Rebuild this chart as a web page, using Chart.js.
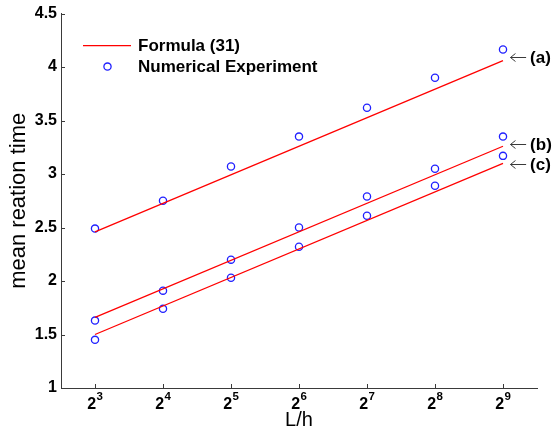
<!DOCTYPE html>
<html>
<head>
<meta charset="utf-8">
<script src="https://cdn.jsdelivr.net/npm/chart.js@4.4.1/dist/chart.umd.min.js"></script>
<style>
    html, body { margin: 0; padding: 0; background: #fff; }
    #wrap { width: 554px; height: 433px; position: relative; }
</style>
</head>
<body>
<div id="wrap"><canvas id="myChart"></canvas></div>
<script>
    // x values are powers of two, stored as exponents (L/h = 2^k)
    const exponents = [3, 4, 5, 6, 7, 8, 9];
    const yTicks = [1, 1.5, 2, 2.5, 3, 3.5, 4, 4.5];

    // numerical experiment (circles)
    const expA = [2.49, 2.75, 3.07, 3.35, 3.62, 3.90, 4.165];
    const expB = [1.63, 1.91, 2.20, 2.50, 2.79, 3.05, 3.35];
    const expC = [1.45, 1.74, 2.03, 2.32, 2.61, 2.89, 3.17];

    // formula (31) lines, end points
    const formulaX = [3, 9];
    const formulaA = [2.46, 4.06];
    const formulaB = [1.66, 3.26];
    const formulaC = [1.50, 3.10];

    // curve labels at the right
    const curveNames = ["(a)", "(b)", "(c)"];
    const curveLabelY = [4.09, 3.28, 3.09];
    const legendLabels = ["Formula (31)", "Numerical Experiment"];

    const FONT = "'Liberation Sans', Arial, Helvetica, sans-serif";
    const RED = "#ff0000";
    const BLUE = "#2020ff";
    const AXIS = "#3a3a3a";

    function toPoints(xs, ys) {
        return xs.map(function (x, i) { return {x: x, y: ys[i]}; });
    }

    function lineSet(ys) {
        return {
            data: toPoints(formulaX, ys),
            showLine: true,
            borderColor: RED,
            borderWidth: 1.3,
            pointRadius: 0,
            fill: false,
        };
    }

    function dotSet(ys) {
        return {
            data: toPoints(exponents, ys),
            showLine: false,
            borderColor: BLUE,
            backgroundColor: "rgba(0,0,0,0)",
            borderWidth: 1.3,
            pointRadius: 3.6,
            pointStyle: "circle",
        };
    }

    // inward ticks, x tick labels 2^k, legend and curve labels
    const decorPlugin = {
        id: "decor",
        afterDraw: function (chart) {
            const ctx = chart.ctx;
            const area = chart.chartArea;
            const xs = chart.scales.x;
            const ys = chart.scales.y;
            ctx.save();

            // tick marks pointing into the plot
            ctx.strokeStyle = AXIS;
            ctx.lineWidth = 1;
            ctx.beginPath();
            exponents.forEach(function (k) {
                const px = Math.round(xs.getPixelForValue(k)) + 0.5;
                ctx.moveTo(px, area.bottom);
                ctx.lineTo(px, area.bottom - 4);
            });
            yTicks.forEach(function (v) {
                const py = Math.round(ys.getPixelForValue(v)) + 0.5;
                ctx.moveTo(area.left, py);
                ctx.lineTo(area.left + 4, py);
            });
            ctx.stroke();

            // x tick labels: 2 with exponent
            ctx.fillStyle = "#000";
            ctx.textBaseline = "alphabetic";
            ctx.textAlign = "left";
            exponents.forEach(function (k) {
                const px = xs.getPixelForValue(k);
                ctx.font = "bold 16px " + FONT;
                const w1 = ctx.measureText("2").width;
                ctx.font = "bold 11.5px " + FONT;
                const w2 = ctx.measureText(String(k)).width;
                const start = px - (w1 + w2) / 2;
                ctx.font = "bold 16px " + FONT;
                ctx.fillText("2", start, area.bottom + 20.5);
                ctx.font = "bold 11.5px " + FONT;
                ctx.fillText(String(k), start + w1 + 0.3, area.bottom + 12);
            });

            // legend
            const lx = area.left;
            ctx.strokeStyle = RED;
            ctx.lineWidth = 1.3;
            ctx.beginPath();
            ctx.moveTo(lx + 22, area.top + 32);
            ctx.lineTo(lx + 70, area.top + 32);
            ctx.stroke();
            ctx.strokeStyle = BLUE;
            ctx.beginPath();
            ctx.arc(lx + 46.5, area.top + 53, 3.6, 0, Math.PI * 2);
            ctx.stroke();
            ctx.fillStyle = "#000";
            ctx.font = "bold 17px " + FONT;
            ctx.textBaseline = "middle";
            ctx.fillText(legendLabels[0], lx + 77, area.top + 32.5);
            ctx.fillText(legendLabels[1], lx + 77, area.top + 53.5);

            // arrows with curve names
            const ax0 = xs.getPixelForValue(9.11);
            const ax1 = xs.getPixelForValue(9.34);
            curveNames.forEach(function (name, i) {
                const py = Math.round(ys.getPixelForValue(curveLabelY[i])) + 0.5;
                ctx.strokeStyle = AXIS;
                ctx.lineWidth = 1;
                ctx.beginPath();
                ctx.moveTo(ax1, py);
                ctx.lineTo(ax0, py);
                ctx.moveTo(ax0 + 5, py - 4);
                ctx.lineTo(ax0, py);
                ctx.lineTo(ax0 + 5, py + 4);
                ctx.stroke();
                ctx.fillStyle = "#000";
                ctx.font = "bold 17px " + FONT;
                ctx.textBaseline = "middle";
                ctx.fillText(name, ax1 + 4, py + 1);
            });
            ctx.restore();
        }
    };

    const ctx = document.getElementById("myChart");
    new Chart(ctx, {
        type: "scatter",
        data: {
            datasets: [
                lineSet(formulaA),
                lineSet(formulaB),
                lineSet(formulaC),
                dotSet(expA),
                dotSet(expB),
                dotSet(expC),
            ],
        },
        options: {
            responsive: true,
            maintainAspectRatio: false,
            animation: false,
            events: [],
            layout: {
                padding: {top: 13, right: 17, left: 0, bottom: 0},
            },
            plugins: {
                legend: {display: false},
                tooltip: {enabled: false},
            },
            scales: {
                x: {
                    type: "linear",
                    min: 2.5,
                    max: 9.5,
                    afterBuildTicks: function (scale) {
                        scale.ticks = exponents.map(function (v) { return {value: v}; });
                    },
                    afterFit: function (scale) {
                        scale.height = 45;
                    },
                    ticks: {display: false},
                    grid: {display: true, drawOnChartArea: false, drawTicks: false},
                    border: {color: AXIS, width: 1},
                    title: {
                        display: true,
                        text: "L/h",
                        color: "#000",
                        font: {family: FONT, size: 20},
                        padding: {top: 0, bottom: 1},
                    },
                },
                y: {
                    min: 1,
                    max: 4.5,
                    afterBuildTicks: function (scale) {
                        scale.ticks = yTicks.map(function (v) { return {value: v}; });
                    },
                    afterFit: function (scale) {
                        scale.width = 61;
                    },
                    ticks: {
                        color: "#000",
                        padding: 4,
                        font: {family: FONT, size: 16, weight: "bold"},
                        callback: function (v) { return String(v); },
                    },
                    grid: {display: true, drawOnChartArea: false, drawTicks: false},
                    border: {color: AXIS, width: 1},
                    title: {
                        display: true,
                        text: "mean reation time",
                        color: "#000",
                        font: {family: FONT, size: 22},
                        padding: {top: 6, bottom: 0},
                    },
                },
            },
        },
        plugins: [decorPlugin],
    });
</script>
</body>
</html>
